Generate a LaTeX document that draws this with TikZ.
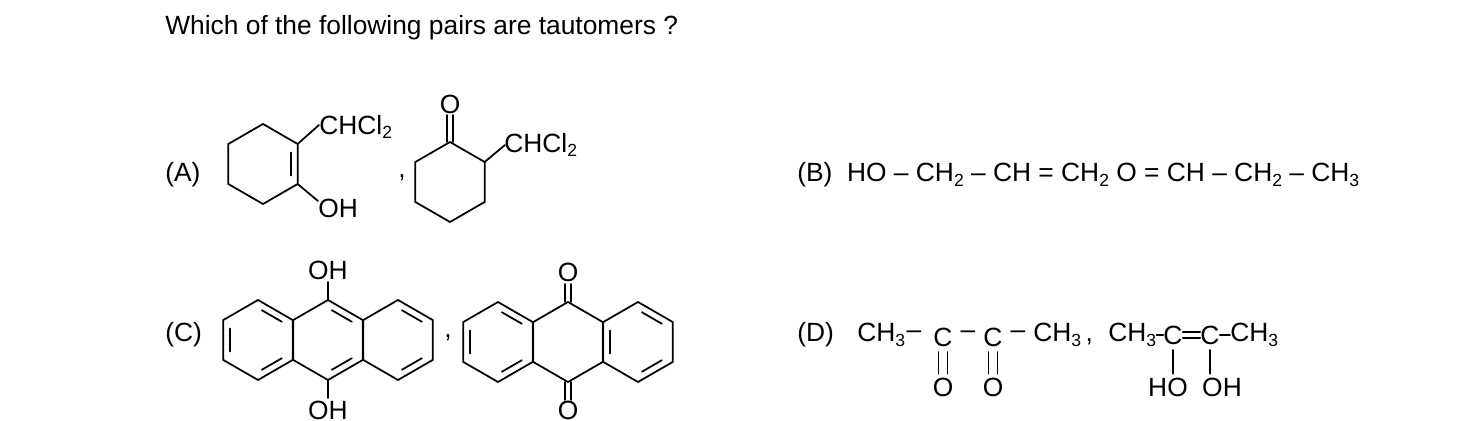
\documentclass[tikz,border=0pt]{standalone}
\usepackage{fontspec}
\setmainfont{Liberation Sans}
\usetikzlibrary{calc}
\tikzset{
  bond/.style={line width=1pt, line cap=round},
  txt/.style={inner sep=0pt, font=\fontsize{15}{18}\selectfont},
}
% hexagon: name, centre x, centre y (pointy top, y grows downward)
\newcommand{\hexring}[3]{%
  \foreach \i/\a in {1/270, 2/330, 3/30, 4/90, 5/150, 6/210}
    \coordinate (#1-\i) at ($(#2,#3)+(\a:40)$);
  \coordinate (#1-c) at (#2,#3);
  \draw[bond] (#1-1) -- (#1-2) -- (#1-3) -- (#1-4) -- (#1-5) -- (#1-6) -- cycle;
}
% inner line of a double bond: ring, vertex a, vertex b
\newcommand{\dbl}[3]{%
  \draw[bond] ($($(#1-#2)!.14!(#1-#3)$)!.2!(#1-c)$) -- ($($(#1-#3)!.14!(#1-#2)$)!.2!(#1-c)$);
}
\newcommand{\sub}[1]{\raisebox{-0.35ex}{\fontsize{10}{10}\selectfont #1}}
\begin{document}
\begin{tikzpicture}[x=0.02cm, y=-0.02cm]
  \useasboundingbox (0,0) rectangle (1481,421);
  \node[txt, anchor=west] (q) at (165,28) {Which of the following pairs are tautomers ?};

  % (A)
  \node[txt, anchor=west] (la) at (165,175) {(A)};
  \hexring{ea}{263}{164}
  \dbl{ea}{2}{3}
  \coordinate (ea-s) at (319,125);
  \coordinate (ea-o) at (318,201);
  \draw[bond] (ea-2) -- (ea-s);
  \draw[bond] (ea-3) -- (ea-o);
  \node[txt, anchor=west] (cl1) at (319,127) {CHCl\sub{2}};
  \node[txt, anchor=west] (oh1) at (318,208) {OH};
  \node[txt] (cm1) at (402,178) {,};
  \hexring{ka}{450}{182}
  \coordinate (ka-s) at (505,145);
  \draw[bond] (ka-2) -- (ka-s);
  \draw[bond] ($(ka-1)+(-3,0)$) -- ++(0,-27);
  \draw[bond] ($(ka-1)+(3,0)$) -- ++(0,-27);
  \node[txt] (o1) at (450,104) {O};
  \node[txt, anchor=west] (cl2) at (504,145) {CHCl\sub{2}};

  % (B)
  \node[txt, anchor=west] (lb) at (797,175) {(B)\ \ HO -- CH\sub{2} -- CH = CH\sub{2} O = CH -- CH\sub{2} -- CH\sub{3}};

  % (C)
  \node[txt, anchor=west] (lc) at (165,335) {(C)};
  \hexring{al}{258}{340}
  \hexring{am}{328}{340}
  \hexring{ar}{398}{340}
  \dbl{al}{6}{5} \dbl{al}{1}{2} \dbl{al}{3}{4}
  \dbl{am}{1}{2} \dbl{am}{3}{4}
  \dbl{ar}{1}{2} \dbl{ar}{3}{4}
  \draw[bond] (am-1) -- ++(0,-18);
  \draw[bond] (am-4) -- ++(0,18);
  \node[txt] (oh2) at (328,270) {OH};
  \node[txt] (oh3) at (328,410) {OH};
  \node[txt] (cm2) at (448,338) {,};
  \hexring{ql}{498}{342}
  \hexring{qm}{568}{342}
  \hexring{qr}{638}{342}
  \dbl{ql}{6}{5} \dbl{ql}{1}{2} \dbl{ql}{3}{4}
  \dbl{qr}{6}{5} \dbl{qr}{1}{2} \dbl{qr}{3}{4}
  \foreach \s in {-3,3} {
    \draw[bond] ($(qm-1)+(\s,0)$) -- ++(0,-18);
    \draw[bond] ($(qm-4)+(\s,0)$) -- ++(0,18);
  }
  \node[txt] (o2) at (568,272) {O};
  \node[txt] (o3) at (568,410) {O};

  % (D)
  \node[txt, anchor=west] (ld) at (797,335) {(D)};
  \node[txt, anchor=west] (d1) at (857,335) {CH\sub{3}};
  \node[txt] (d2) at (914,335) {--};
  \node[txt] (k1) at (943,337) {C};
  \node[txt] (d3) at (968,335) {--};
  \node[txt] (k2) at (993,337) {C};
  \node[txt] (d4) at (1018,335) {--};
  \node[txt, anchor=west] (d5) at (1033,335) {CH\sub{3}\,,};
  \node[txt] (ko1) at (943,387) {O};
  \node[txt] (ko2) at (993,387) {O};
  \foreach \k/\o in {k1/ko1, k2/ko2} {
    \draw[bond] ([xshift=-2.5pt, yshift=-3pt]\k.south) -- ([xshift=-2.5pt, yshift=2pt]\o.north);
    \draw[bond] ([xshift=2.5pt, yshift=-3pt]\k.south) -- ([xshift=2.5pt, yshift=2pt]\o.north);
  }
  \node[txt, anchor=west] (m1) at (1108,335) {CH\sub{3}};
  \node[txt] (e1) at (1173,335) {C};
  \node[txt] (e2) at (1210,335) {C};
  \node[txt, anchor=west] (m2) at (1230,335) {CH\sub{3}};
  \draw[bond] (m1.east |- e1) -- (e1.west);
  \draw[bond] ([yshift=-1.5pt]e1.east) -- ([yshift=-1.5pt]e2.west);
  \draw[bond] ([yshift=1.5pt]e1.east) -- ([yshift=1.5pt]e2.west);
  \draw[bond] (e2.east) -- (m2.west);
  \node[txt] (ho1) at (1168,387) {HO};
  \node[txt] (ho2) at (1222,387) {OH};
  \draw[bond] ([yshift=-3pt]e1.south) -- ([yshift=2pt]e1 |- ho1.north);
  \draw[bond] ([yshift=-3pt]e2.south) -- ([yshift=2pt]e2 |- ho2.north);
\end{tikzpicture}
\end{document}
